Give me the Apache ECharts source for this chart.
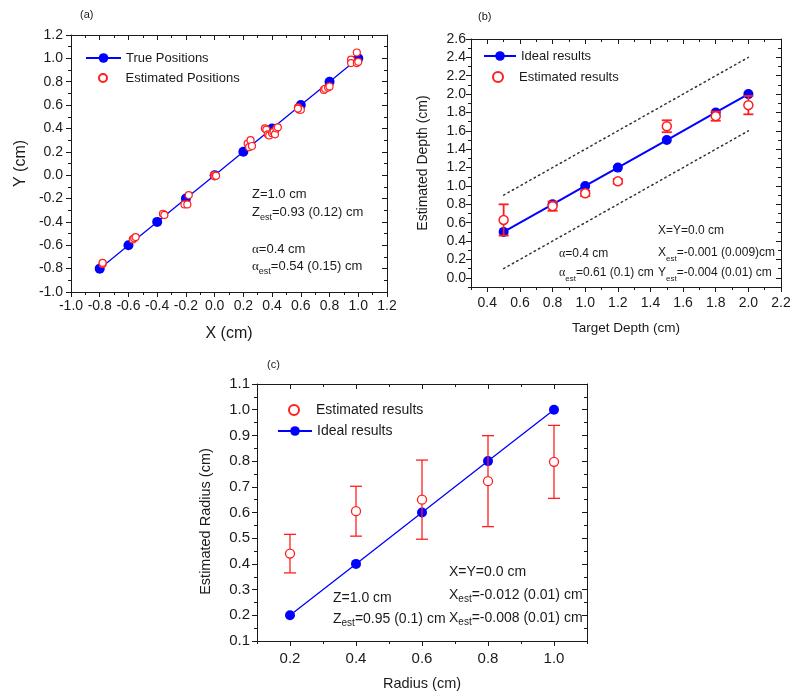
<!DOCTYPE html>
<html><head><meta charset="utf-8">
<script src="https://cdn.jsdelivr.net/npm/echarts@6/dist/echarts.min.js"></script>
<style>html,body{margin:0;padding:0;background:#fff}#c{width:800px;height:700px}</style>
</head><body><div id="c"></div>
<script>
// ---------- Panel (a): X / Y positions ----------
const aTrueX = [-0.8, -0.6, -0.4, -0.2, 0.0, 0.2, 0.4, 0.6, 0.8, 1.0];
const aTrueY = [-0.8, -0.6, -0.4, -0.2, 0.0, 0.2, 0.4, 0.6, 0.8, 1.0];
const aEstX = [-0.78, -0.78, -0.57, -0.56, -0.55, -0.36, -0.35, -0.18, -0.21, -0.19,
  -0.005, 0.0, 0.01, 0.23, 0.25, 0.24, 0.26, 0.35, 0.36, 0.37, 0.38, 0.40, 0.41, 0.42, 0.43, 0.44,
  0.58, 0.59, 0.60, 0.58, 0.76, 0.77, 0.79, 0.80, 0.95, 0.95, 0.99, 0.99, 1.0];
const aEstY = [-0.76, -0.75, -0.55, -0.54, -0.53, -0.33, -0.34, -0.17, -0.25, -0.25,
  0.0, -0.01, -0.005, 0.27, 0.30, 0.24, 0.25, 0.40, 0.39, 0.35, 0.34, 0.36, 0.37, 0.35, 0.40, 0.41,
  0.58, 0.56, 0.56, 0.57, 0.73, 0.74, 0.75, 0.76, 0.99, 0.96, 1.05, 0.96, 0.97];
const aTicks = [-1.0, -0.8, -0.6, -0.4, -0.2, 0.0, 0.2, 0.4, 0.6, 0.8, 1.0, 1.2];
const aMinorTicks = [-0.9, -0.7, -0.5, -0.3, -0.1, 0.1, 0.3, 0.5, 0.7, 0.9, 1.1];

// ---------- Panel (b): depth ----------
const bTargetDepth = [0.5, 0.8, 1.0, 1.2, 1.5, 1.8, 2.0];
const bIdealDepth = [0.5, 0.8, 1.0, 1.2, 1.5, 1.8, 2.0];
const bEstDepth = [0.63, 0.78, 0.92, 1.05, 1.65, 1.76, 1.88];
const bEstErr = [0.17, 0.05, 0.03, 0.025, 0.065, 0.05, 0.10];
const bBoundX = [0.5, 2.0];
const bUpperBound = [0.9, 2.4];
const bLowerBound = [0.1, 1.6];
const bXTicks = [0.4, 0.6, 0.8, 1.0, 1.2, 1.4, 1.6, 1.8, 2.0, 2.2];
const bXMinorTicks = [0.3, 0.5, 0.7, 0.9, 1.1, 1.3, 1.5, 1.7, 1.9, 2.1];
const bYTicks = [0.0, 0.2, 0.4, 0.6, 0.8, 1.0, 1.2, 1.4, 1.6, 1.8, 2.0, 2.2, 2.4, 2.6];
const bYMinorTicks = [-0.1, 0.1, 0.3, 0.5, 0.7, 0.9, 1.1, 1.3, 1.5, 1.7, 1.9, 2.1, 2.3, 2.5];

// ---------- Panel (c): radius ----------
const cRadius = [0.2, 0.4, 0.6, 0.8, 1.0];
const cIdealRadius = [0.2, 0.4, 0.6, 0.8, 1.0];
const cEstRadius = [0.44, 0.605, 0.65, 0.722, 0.797];
const cEstErr = [0.075, 0.097, 0.154, 0.177, 0.142];
const cXTicks = [0.2, 0.4, 0.6, 0.8, 1.0];
const cXMinorTicks = [0.1, 0.3, 0.5, 0.7, 0.9, 1.1];
const cYTicks = [0.1, 0.2, 0.3, 0.4, 0.5, 0.6, 0.7, 0.8, 0.9, 1.0, 1.1];
const cYMinorTicks = [0.15, 0.25, 0.35, 0.45, 0.55, 0.65, 0.75, 0.85, 0.95, 1.05];

// ---------- styling ----------
const INK = '#1a1a1a';
const BLUE = '#0000ff';
const RED = '#ff1f1f';
const FONT = "'Liberation Sans', Arial, sans-serif";
const SERIF = "'Liberation Serif', 'Times New Roman', serif";

const xAxes = [], yAxes = [];
function fmt(v) { return (Math.abs(v) < 1e-9 ? 0 : v).toFixed(1); }
function addAxes(list, isX, grid, c) {
  const main = list.length;
  const base = { type: 'value', gridIndex: grid, min: c.min, max: c.max, splitLine: { show: false } };
  const line = { show: true, onZero: false, lineStyle: { color: INK, width: 1 } };
  const noLine = { show: false, onZero: false };
  list.push(Object.assign({}, base, {
    position: isX ? 'bottom' : 'left',
    axisLine: line,
    axisTick: { show: true, inside: false, length: 5, customValues: c.major, lineStyle: { color: INK } },
    axisLabel: { show: true, customValues: c.labels || c.major, formatter: fmt, margin: c.margin,
      fontSize: c.fs, color: INK, fontFamily: FONT },
    name: c.name, nameLocation: 'middle', nameGap: c.nameGap,
    nameTextStyle: { fontSize: c.nfs, color: INK, fontFamily: FONT, padding: c.npad || 0 }
  }));
  list.push(Object.assign({}, base, {
    position: isX ? 'bottom' : 'left', axisLine: noLine,
    axisTick: { show: true, inside: false, length: 3, customValues: c.minor, lineStyle: { color: INK } },
    axisLabel: { show: false }
  }));
  list.push(Object.assign({}, base, {
    position: isX ? 'top' : 'right', axisLine: line,
    axisTick: { show: true, inside: true, length: 5, customValues: c.major, lineStyle: { color: INK } },
    axisLabel: { show: false }
  }));
  list.push(Object.assign({}, base, {
    position: isX ? 'top' : 'right', axisLine: noLine,
    axisTick: { show: true, inside: true, length: 3, customValues: c.minor, lineStyle: { color: INK } },
    axisLabel: { show: false }
  }));
  return main;
}

const axA = addAxes(xAxes, true, 0, { min: -1.0, max: 1.2, major: aTicks, minor: aMinorTicks, margin: 7, fs: 14, name: 'X (cm)', nameGap: 34, nfs: 16 });
const ayA = addAxes(yAxes, false, 0, { min: -1.0, max: 1.2, major: aTicks, minor: aMinorTicks, margin: 8, fs: 14, name: 'Y (cm)', nameGap: 42, nfs: 16 });
const axB = addAxes(xAxes, true, 1, { min: 0.3, max: 2.2, major: bXTicks, minor: bXMinorTicks, margin: 9, fs: 14, name: 'Target Depth (cm)', nameGap: 34, nfs: 13.5 });
const ayB = addAxes(yAxes, false, 1, { min: -0.1, max: 2.6, major: bYTicks, minor: bYMinorTicks, margin: 5, fs: 14, name: 'Estimated Depth (cm)', nameGap: 41, nfs: 14 });
const axC = addAxes(xAxes, true, 2, { min: 0.1, max: 1.1, major: cXTicks, minor: cXMinorTicks, margin: 10, fs: 15, name: 'Radius (cm)', nameGap: 35, nfs: 14.5 });
const ayC = addAxes(yAxes, false, 2, { min: 0.1, max: 1.1, major: cYTicks, minor: cYMinorTicks, margin: 7, fs: 15, name: 'Estimated Radius (cm)', nameGap: 44, nfs: 14.5, npad: [0, 18, 0, 0] });

function pairs(xs, ys) { return xs.map((x, i) => [x, ys[i]]); }
function bars(xs, ys, es) { return xs.map((x, i) => [x, ys[i] - es[i], ys[i] + es[i]]); }
function errorBar(capHalf, width) {
  return function (params, api) {
    const x = api.value(0), lo = api.value(1), hi = api.value(2);
    const t = api.coord([x, hi]), b = api.coord([x, lo]);
    const st = () => ({ stroke: RED, lineWidth: width });
    return { type: 'group', children: [
      { type: 'line', shape: { x1: t[0], y1: t[1], x2: b[0], y2: b[1] }, style: st() },
      { type: 'line', shape: { x1: t[0] - capHalf, y1: t[1], x2: t[0] + capHalf, y2: t[1] }, style: st() },
      { type: 'line', shape: { x1: b[0] - capHalf, y1: b[1], x2: b[0] + capHalf, y2: b[1] }, style: st() }
    ] };
  };
}
const openRed = (bw) => ({ color: '#ffffff', borderColor: RED, borderWidth: bw, opacity: 1 });

const series = [
  // (a)
  { name: 'True Positions', type: 'line', xAxisIndex: axA, yAxisIndex: ayA, data: pairs(aTrueX, aTrueY),
    symbol: 'circle', symbolSize: 10, itemStyle: { color: BLUE }, lineStyle: { color: BLUE, width: 1.3 }, z: 2 },
  { name: 'Estimated Positions', type: 'scatter', xAxisIndex: axA, yAxisIndex: ayA, data: pairs(aEstX, aEstY),
    symbol: 'circle', symbolSize: 7, itemStyle: openRed(1.2), z: 3 },
  // (b)
  { name: 'upper', type: 'line', xAxisIndex: axB, yAxisIndex: ayB, data: pairs(bBoundX, bUpperBound), symbol: 'none',
    lineStyle: { color: '#333', width: 1.5, type: [1.5, 3.5], cap: 'round' }, silent: true, z: 1 },
  { name: 'lower', type: 'line', xAxisIndex: axB, yAxisIndex: ayB, data: pairs(bBoundX, bLowerBound), symbol: 'none',
    lineStyle: { color: '#333', width: 1.5, type: [1.5, 3.5], cap: 'round' }, silent: true, z: 1 },
  { name: 'Ideal results', type: 'line', xAxisIndex: axB, yAxisIndex: ayB, data: pairs(bTargetDepth, bIdealDepth),
    symbol: 'circle', symbolSize: 10, itemStyle: { color: BLUE }, lineStyle: { color: BLUE, width: 2 }, z: 2 },
  { name: 'b error', type: 'custom', xAxisIndex: axB, yAxisIndex: ayB, data: bars(bTargetDepth, bEstDepth, bEstErr),
    encode: { x: 0, y: [1, 2] }, renderItem: errorBar(5, 1.8), z: 3 },
  { name: 'Estimated results', type: 'scatter', xAxisIndex: axB, yAxisIndex: ayB, data: pairs(bTargetDepth, bEstDepth),
    symbol: 'circle', symbolSize: 9, itemStyle: openRed(1.5), z: 4 },
  // (c)
  { name: 'Ideal results', type: 'line', xAxisIndex: axC, yAxisIndex: ayC, data: pairs(cRadius, cIdealRadius),
    symbol: 'circle', symbolSize: 10, itemStyle: { color: BLUE }, lineStyle: { color: BLUE, width: 1.3 }, z: 2 },
  { name: 'c error', type: 'custom', xAxisIndex: axC, yAxisIndex: ayC, data: bars(cRadius, cEstRadius, cEstErr),
    encode: { x: 0, y: [1, 2] }, renderItem: errorBar(6, 1.3), z: 3 },
  { name: 'Estimated results', type: 'scatter', xAxisIndex: axC, yAxisIndex: ayC, data: pairs(cRadius, cEstRadius),
    symbol: 'circle', symbolSize: 9, itemStyle: openRed(1.3), z: 4 }
];

function leg(name, left, cy, w, h, fs) {
  return { data: [name], left: left, top: cy - 8, orient: 'vertical', padding: 0, itemWidth: w, itemHeight: h,
    selectedMode: false, textStyle: { fontSize: fs, color: INK, fontFamily: FONT, lineHeight: 16 } };
}
const legends = [
  leg('True Positions', 85, 58, 35, 12, 13),
  leg('Estimated Positions', 98, 78, 35, 8, 13),
  leg('Ideal results', 483, 56, 32, 12, 13),
  leg('Estimated results', 492, 77, 32, 10, 13),
  leg('Estimated results', 288, 410, 34, 10, 14),
  leg('Ideal results', 277, 431, 34, 12, 14)
];

function richFor(fs) {
  return {
    n: { fontSize: fs, fontFamily: FONT, fill: INK, lineHeight: 16, verticalAlign: 'top' },
    g: { fontSize: fs, fontFamily: SERIF, fill: INK, lineHeight: 16, verticalAlign: 'top' },
    s: { fontSize: Math.round(fs * 0.68), fontFamily: FONT, fill: INK, lineHeight: 16, verticalAlign: 'bottom' }
  };
}
function ann(x, cy, text, fs) {
  return { type: 'text', x: x, y: cy - 5, silent: true,
    style: { text: text, rich: richFor(fs), verticalAlign: 'top', align: 'left' } };
}
function plain(x, cy, text, fs) {
  return { type: 'text', x: x, y: cy, silent: true,
    style: { text: text, font: fs + 'px ' + FONT, fill: INK, verticalAlign: 'middle', align: 'left' } };
}
const graphics = [
  plain(80, 15, '(a)', 11), plain(478, 17, '(b)', 11), plain(267, 365, '(c)', 11),
  ann(252, 193, '{n|Z=1.0 cm}', 13),
  ann(252, 211, '{n|Z}{s|est}{n|=0.93 (0.12) cm}', 13),
  ann(252, 248, '{g|α}{n|=0.4 cm}', 13),
  ann(252, 265, '{g|α}{s|est}{n|=0.54 (0.15) cm}', 13),
  ann(658, 230, '{n|X=Y=0.0 cm}', 12),
  ann(658, 252, '{n|X}{s|est}{n|=-0.001 (0.009)cm}', 12),
  ann(658, 272, '{n|Y}{s|est}{n|=-0.004 (0.01) cm}', 12),
  ann(559, 253, '{g|α}{n|=0.4 cm}', 12),
  ann(559, 272, '{g|α}{s|est}{n|=0.61 (0.1) cm}', 12),
  ann(449, 570, '{n|X=Y=0.0 cm}', 14),
  ann(449, 593, '{n|X}{s|est}{n|=-0.012 (0.01) cm}', 14),
  ann(449, 616, '{n|X}{s|est}{n|=-0.008 (0.01) cm}', 14),
  ann(333, 596, '{n|Z=1.0 cm}', 14),
  ann(333, 617, '{n|Z}{s|est}{n|=0.95 (0.1) cm}', 14)
];

const chart = echarts.init(document.getElementById('c'), null, { renderer: 'canvas' });
chart.setOption({
  animation: false,
  backgroundColor: '#ffffff',
  textStyle: { fontFamily: FONT },
  grid: [
    { left: 71, top: 35, width: 316, height: 257, containLabel: false, outerBoundsMode: 'none' },
    { left: 471, top: 39, width: 310, height: 248, containLabel: false, outerBoundsMode: 'none' },
    { left: 257, top: 384, width: 330, height: 257, containLabel: false, outerBoundsMode: 'none' }
  ],
  xAxis: xAxes,
  yAxis: yAxes,
  legend: legends,
  series: series,
  graphic: graphics
});
</script>
</body></html>
